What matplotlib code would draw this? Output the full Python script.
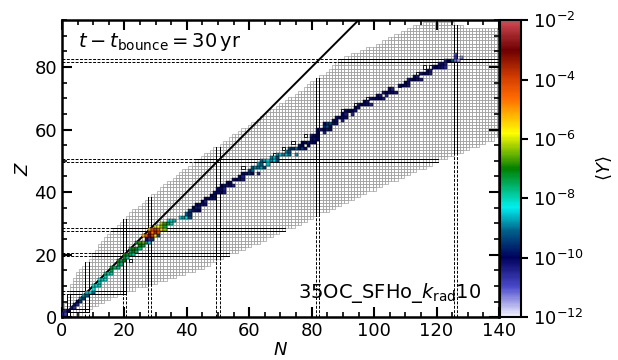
import numpy as np
import matplotlib
matplotlib.use('Agg')
import matplotlib.pyplot as plt
from matplotlib.colors import LinearSegmentedColormap, LogNorm
from matplotlib.collections import PatchCollection
from matplotlib.patches import Rectangle
from matplotlib.ticker import MultipleLocator

# --- nuclear chart extent: lightest / heaviest N for each Z = 0..94 ---
chart_z = list(range(95))
chart_nmin = [1, 0, 1, 1, 1, 2, 2, 2, 3, 3,
              3, 4, 4, 5, 5, 6, 7, 8, 9, 10,
              10, 11, 12, 12, 13, 14, 15, 16, 17, 18,
              19, 20, 21, 22, 23, 25, 26, 27, 28, 29,
              31, 32, 33, 34, 36, 37, 38, 39, 41, 42,
              43, 45, 46, 48, 49, 51, 52, 54, 55, 57,
              58, 60, 61, 63, 64, 66, 67, 69, 70, 72,
              73, 75, 76, 78, 79, 80, 82, 83, 85, 86,
              87, 88, 89, 91, 93, 96, 98, 101, 103, 105,
              107, 109, 111, 113, 116]
chart_nmax = [4, 6, 8, 9, 11, 13, 15, 17, 20, 23,
              27, 30, 33, 36, 39, 42, 45, 47, 49, 51,
              53, 56, 58, 60, 63, 65, 67, 69, 71, 74,
              76, 78, 80, 82, 85, 87, 89, 91, 93, 95,
              97, 100, 102, 104, 107, 109, 111, 113, 116, 118,
              120, 123, 125, 128, 130, 133, 135, 138, 140, 140,
              140, 140, 140, 140, 140, 140, 140, 140, 140, 140,
              140, 140, 140, 140, 140, 140, 140, 140, 140, 140,
              140, 140, 140, 140, 140, 140, 140, 140, 140, 140,
              140, 140, 140, 128, 125]

magic_numbers = [2, 8, 20, 28, 50, 82, 126]

# --- abundances <Y> along the path: first N of each row and log10(Y) ---
path_z = list(range(1, 85))
path_n0 = [0, 1, 3, 4, 5, 6, 7, 8, 10, 10,
           12, 12, 14, 14, 16, 16, 18, 18, 20, 20,
           22, 22, 25, 24, 27, 26, 28, 28, 30, 32,
           34, 38, 40, 41, 42, 43, 45, 46, 48, 49,
           50, 51, 53, 55, 57, 58, 60, 61, 63, 64,
           67, 69, 72, 73, 76, 77, 80, 80, 82, 82,
           84, 84, 87, 88, 90, 91, 94, 95, 97, 99,
           101, 103, 105, 108, 110, 111, 113, 115, 117, 119,
           121, 123, 126, 126]
path_logy = [
    [-10.3, -10.8], [-10.5, -10.0], [-10.2, -10.6], [-9.8, -10.4], [-10.0, -9.5],
    [-9.0, -9.4], [-8.8, -9.2], [-8.6, -8.2, -9.0], [-8.3], [-8.1, -8.4, -8.0],
    [-8.0], [-8.2, -7.9, -8.3], [-8.1], [-7.6, -7.9, -8.0], [-7.5],
    [-7.2, -7.6, -7.8], [-7.3, -7.7], [-7.1, -7.4, -7.0], [-7.3, -7.8], [-7.0, -7.2, -7.5, -8.0],
    [-7.4, -7.1, -7.6], [-7.3, -6.9, -7.2, -7.8], [-7.0, -7.4], [-7.2, -6.8, -6.5, -7.3, -8.4], [-10.2, -10.6, -9.5],
    [-5.2, -4.4, -3.2, -4.0, -5.5, -9.2], [-3.4, -4.7, -3.5, -4.2], [-5.0, -4.2, -3.8, -4.3, -5.5, -6.3],
    [-6.0, -5.8, -6.3, -7.5], [-6.2, -6.8, -7.4, -8.0],
    [-8.4, -8.1, -8.6], [-8.5, -8.8, -8.3, -9.3], [-9.1, -9.6], [-9.4, -9.7, -9.9, -10.0], [-10.0, -9.6, -10.3],
    [-9.9, -10.1, -9.8, -10.2], [-10.0, -10.4], [-10.1, -9.9, -10.2, -9.7], [-10.0, -9.8], [-10.2, -9.9, -10.0, -10.3],
    [-9.9, -10.1, -10.4], [-10.0, -9.8, -10.2, -10.1, -10.4], [-10.1, -9.9], [-10.2, -10.0, -9.8, -10.3], [-10.1, -10.4],
    [-9.9, -10.1, -9.6, -10.0, np.nan, -10.5], [-9.4, -9.0], [-9.2, -8.9, -9.0, -8.7, -9.4], [-8.8, -9.1, np.nan, -8.6],
    [-9.0, -8.7, -8.5, -8.8, -8.4, -9.2],
    [-8.9, -8.6, -9.3], [-8.8, -8.5, -8.9, -8.6, -9.0, np.nan, -8.7], [-8.9, -9.2], [-9.3, -9.6, -9.0, -9.8, -9.4, -10.1],
    [-9.8, -10.0, np.nan, -9.9], [-10.0, -9.9, -9.7, -10.1, -10.0], [-10.1, -9.8, -10.0], [-10.3, -9.9, -10.0],
    [-10.0, np.nan, -10.4], [-9.9, -10.2, -10.0, -9.7, -10.1],
    [-9.6, -9.2, -10.0], [-10.1, -9.5, -9.3, -9.8, -10.2], [-9.8, -10.1, np.nan, -10.4], [-10.2, -10.0, -9.9, -10.1],
    [-10.0, -10.3, np.nan, -10.5], [-10.1, -9.9, -10.0, -10.2], [-10.0, -10.2], [-10.3, -10.0, -9.9, -10.1, -10.4],
    [-10.0, -10.2], [-10.2, -10.1, -9.9, -10.0, -10.3],
    [-10.1, -10.3, np.nan, -10.5], [-10.3, -10.0, -10.1, -9.9, -10.2], [-10.1, -10.4], [-10.2, -10.0, -10.1, -10.3],
    [-10.0, -10.2], [-10.4, -10.1, -10.0, -10.2, -10.3], [-10.1, -10.3], [-10.2, -10.0, -10.1, -10.4],
    [-10.1, -10.3], [-10.2, -10.0, -10.1, -10.2, -10.5],
    [-10.3, -10.1, -10.4], [-10.4, -10.0, -9.2, -11.2, -11.5], [-10.8, np.nan, -11.4], [-11.0],
]

# stable nuclei left without abundance (open squares)
stable_n = [22, 58, 64, 68, 71, 74, 78, 90, 92, 94, 98, 108, 114, 116, 118]
stable_z = [18, 48, 50, 52, 54, 56, 58, 66, 66, 68, 70, 74, 78, 80, 80]

# colour scale of <Y>
cmap_colors = [(0.00, '#f6f6fd'), (0.10, '#4a4acb'), (0.20, '#00005c'),
               (0.29, '#00608a'), (0.37, '#00f0f0'), (0.50, '#008000'),
               (0.62, '#ffff00'), (0.74, '#ff6a00'), (0.81, '#d23c00'),
               (0.90, '#6e0000'), (1.00, '#d24a55')]
cmap = LinearSegmentedColormap.from_list('abund', cmap_colors)
norm = LogNorm(vmin=1e-12, vmax=1e-2)

fig = plt.figure(figsize=(6.18, 3.6), dpi=100)
ax = fig.add_axes([0.1003, 0.119, 0.7071, 0.825])

# grey grid of known nuclei
grey = []
for z, n1, n2 in zip(chart_z, chart_nmin, chart_nmax):
    for n in range(n1, min(n2, 140) + 1):
        grey.append(Rectangle((n - 0.5, z - 0.5), 1, 1))
ax.add_collection(PatchCollection(grey, facecolor='none', edgecolor='0.63', lw=0.5, zorder=1))

# magic number lines
dash = (0, (3, 1.5))
for m in magic_numbers:
    if m in chart_z:
        zi = chart_z.index(m)
        lo, hi = chart_nmin[zi], chart_nmax[zi]
        for off in (-0.5, 0.5):
            ax.plot([0, lo - 0.5], [m + off] * 2, color='k', lw=0.7, ls=dash, zorder=2)
            ax.plot([lo - 0.5, hi + 0.5], [m + off] * 2, color='k', lw=0.7, zorder=2)
    zs = [z for z, a, b in zip(chart_z, chart_nmin, chart_nmax) if a <= m <= b]
    for off in (-0.5, 0.5):
        ax.plot([m + off] * 2, [0, min(zs) - 0.5], color='k', lw=0.7, ls=dash, zorder=2)
        ax.plot([m + off] * 2, [min(zs) - 0.5, max(zs) + 0.5], color='k', lw=0.7, zorder=2)

# N = Z line
ax.plot([0, 100], [0, 100], color='k', lw=1.4, zorder=3)

# stable nuclei
stab = [Rectangle((n - 0.5, z - 0.5), 1, 1) for n, z in zip(stable_n, stable_z)]
ax.add_collection(PatchCollection(stab, facecolor='none', edgecolor='k', lw=0.6, zorder=4))

# abundances
cells, vals = [], []
for z, n0, row in zip(path_z, path_n0, path_logy):
    for i, v in enumerate(row):
        if np.isnan(v):
            continue
        cells.append(Rectangle((n0 + i - 0.5, z - 0.5), 1, 1))
        vals.append(10.0 ** v)
pc = PatchCollection(cells, cmap=cmap, norm=norm, edgecolor='k', lw=0.3, zorder=5)
pc.set_array(np.array(vals))
ax.add_collection(pc)

ax.set_xlim(0, 140)
ax.set_ylim(0, 95)
ax.xaxis.set_major_locator(MultipleLocator(20))
ax.xaxis.set_minor_locator(MultipleLocator(5))
ax.yaxis.set_major_locator(MultipleLocator(20))
ax.yaxis.set_minor_locator(MultipleLocator(5))
ax.tick_params(which='both', direction='in', top=True, right=True, labelsize=13)
ax.tick_params(which='major', length=7, width=1.5)
ax.tick_params(which='minor', length=3.5, width=1.2)
for s in ax.spines.values():
    s.set_linewidth(1.8)
ax.set_xlabel('$N$', fontsize=13, labelpad=1)
ax.set_ylabel('$Z$', fontsize=13, labelpad=2)

ax.text(0.037, 0.925, r'$t - t_{\rm bounce} = 30\,{\rm yr}$', transform=ax.transAxes,
        fontsize=14, va='center', ha='left')
ax.text(0.54, 0.082, r'35OC_SFHo_$k_{\rm rad}$10', transform=ax.transAxes,
        fontsize=14, va='center', ha='left')

cax = fig.add_axes([0.8095, 0.119, 0.034, 0.825])
cb = fig.colorbar(pc, cax=cax)
cb.set_ticks([1e-12, 1e-10, 1e-8, 1e-6, 1e-4, 1e-2])
cb.ax.minorticks_off()
cb.ax.tick_params(labelsize=13, length=5, width=1.5)
cb.outline.set_linewidth(1.5)
cb.set_label(r'$\langle Y \rangle$', fontsize=13, labelpad=8)

fig.savefig('out.png', dpi=100)
